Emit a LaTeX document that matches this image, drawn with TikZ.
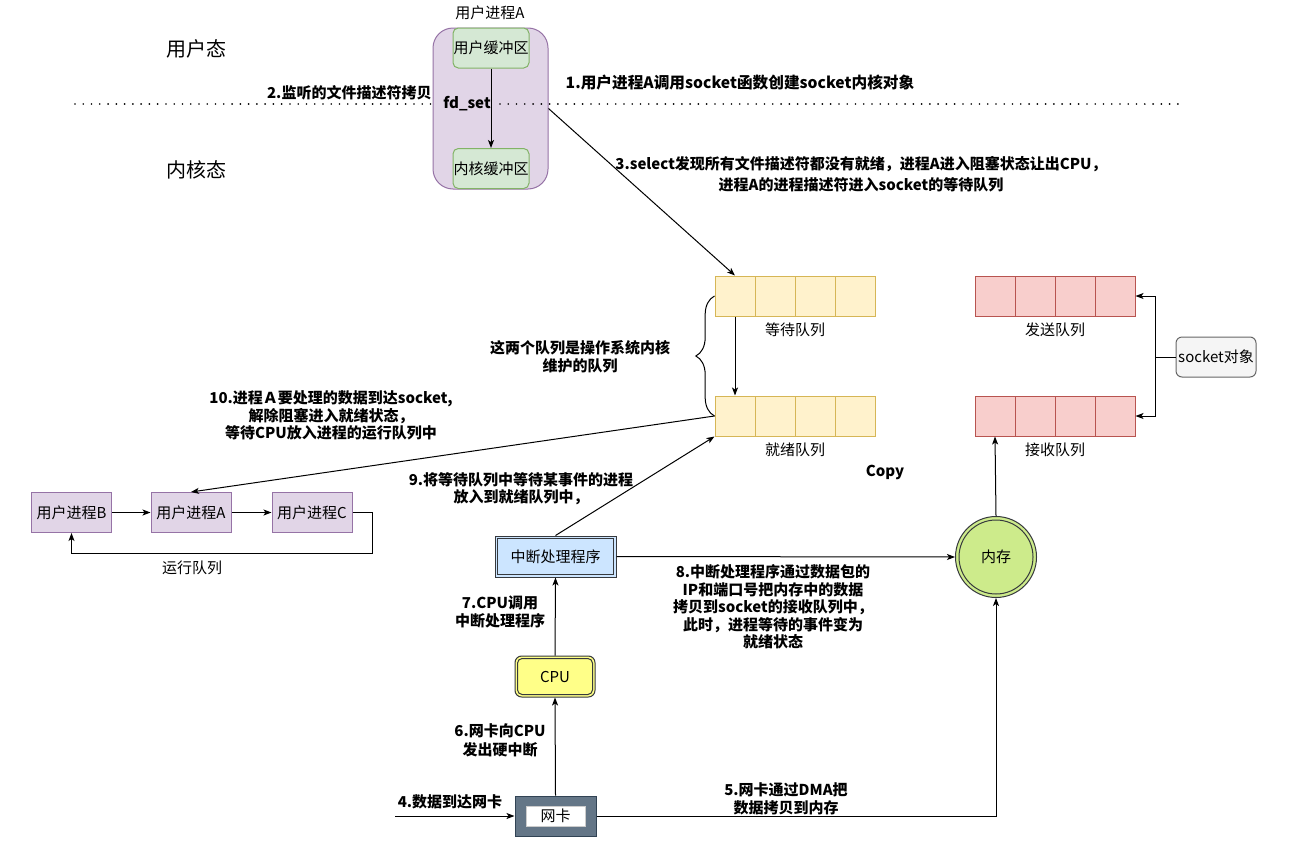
\documentclass[tikz,border=0pt]{standalone}
\usepackage{fontspec}
\setmainfont{Noto Sans CJK SC}
\usetikzlibrary{arrows.meta,decorations.pathreplacing,calc}
\definecolor{purF}{HTML}{E1D5E7}\definecolor{purD}{HTML}{9673A6}
\definecolor{grnF}{HTML}{D5E8D4}\definecolor{grnD}{HTML}{82B366}
\definecolor{ylwF}{HTML}{FFF2CC}\definecolor{ylwD}{HTML}{D6B656}
\definecolor{redF}{HTML}{F8CECC}\definecolor{redD}{HTML}{B85450}
\definecolor{gryF}{HTML}{F5F5F5}\definecolor{gryD}{HTML}{666666}
\definecolor{intF}{HTML}{CCE5FF}\definecolor{darkD}{HTML}{36393D}
\definecolor{cpuF}{HTML}{FFFF88}\definecolor{memF}{HTML}{CDEB8B}
\definecolor{nicF}{HTML}{647687}\definecolor{nicD}{HTML}{314354}
\begin{document}
\begin{tikzpicture}[x=0.75pt,y=-0.75pt,line width=0.75pt,
  >={Stealth[length=6pt,width=4.5pt,inset=1.5pt]},
  txt/.style={font=\fontsize{11.25}{13.5}\selectfont,inner sep=0pt,align=center},
  lbl/.style={font=\fontsize{11.25}{13.5}\selectfont\bfseries,inner sep=0pt,align=center},
  big/.style={font=\fontsize{15}{18}\selectfont,inner sep=0pt},
  pbox/.style={draw=purD,fill=purF,minimum width=60pt,minimum height=30pt,inner sep=0pt,font=\fontsize{11.25}{13.5}\selectfont},
  gbox/.style={draw=grnD,fill=grnF,rounded corners=4pt,minimum width=57pt,minimum height=30pt,inner sep=0pt,font=\fontsize{11.25}{13.5}\selectfont},
  ycell/.style={draw=ylwD,fill=ylwF,minimum size=30pt,inner sep=0pt},
  rcell/.style={draw=redD,fill=redF,minimum size=30pt,inner sep=0pt},
  dotline/.style={line width=1.4pt,line cap=round,dash pattern=on 0pt off 6.2pt}
]
\useasboundingbox (0,0) rectangle (1295,846);
\fill[white] (0,0) rectangle (1295,846);

% user/kernel separation
\draw[dotline] (75,104) -- (432,104);
\node[big] (ustate) at (196,49) {用户态};
\node[big] (kstate) at (196,170) {内核态};

% process A
\node[draw=purD,fill=purF,rounded corners=15pt,minimum width=86.25pt,minimum height=120.75pt,inner sep=0pt] (procA) at (490.5,108.5) {};
\draw[dotline] (500,104) -- (1180,104);
\node[txt] (procAlbl) at (490,13) {用户进程A};
\node[gbox] (ubuf) at (491,48) {用户缓冲区};
\node[gbox] (kbuf) at (491,168.5) {内核缓冲区};
\draw[->] (ubuf.south) -- (kbuf.north);
\node[lbl] (fdset) at (467,104) {fd\_set};
\node[lbl,anchor=east] (l2) at (432,93) {2.监听的文件描述符拷贝};
\node[lbl,font=\fontsize{11.75}{14}\selectfont\bfseries] (l1) at (740,83) {1.用户进程A调用socket函数创建socket内核对象};

% queues
\foreach \i/\xx in {1/735,2/775,3/815,4/855}{
  \node[ycell] (w\i) at (\xx,296) {};
  \node[ycell] (r\i) at (\xx,416) {};
}
\foreach \i/\xx in {1/995,2/1035,3/1075,4/1115}{
  \node[rcell] (s\i) at (\xx,296) {};
  \node[rcell] (v\i) at (\xx,416) {};
}
\node[txt] (wl) at (795,330) {等待队列};
\node[txt] (rl) at (795,450) {就绪队列};
\node[txt] (sl) at (1055,330) {发送队列};
\node[txt] (vl) at (1055,450) {接收队列};
\draw[->] (w1.south) -- (r1.north);
\draw[decorate,decoration={brace,amplitude=14pt}] (r1.west) -- (w1.west);
\node[lbl,font=\fontsize{11.25}{13.5}\selectfont\bfseries] (lbrace) at (580,357) {这两个队列是操作系统内核\\维护的队列};

% socket object
\node[draw=gryD,fill=gryF,rounded corners=4.5pt,minimum width=60pt,minimum height=30pt,inner sep=0pt,font=\fontsize{11.25}{13.5}\selectfont] (sock) at (1216,357) {socket对象};
\draw[->] (sock.west) -- ++(-20,0) |- (s4.east);
\draw[->] (sock.west) -- ++(-20,0) |- (v4.east);

% step 3
\draw[->] (procA.east) -- (w1.north);
\node[lbl,font=\fontsize{11.25}{15.75}\selectfont\bfseries] (l3) at (861,174.5) {3.select发现所有文件描述符都没有就绪，进程A进入阻塞状态让出CPU，\\进程A的进程描述符进入socket的等待队列};

\node[lbl] (copy) at (885,472) {Copy};

% run queue
\node[pbox] (pB) at (71.5,512.5) {用户进程B};
\node[pbox] (pA) at (191,512.5) {用户进程A};
\node[pbox] (pC) at (312,512.5) {用户进程C};
\draw[->] (pB.east) -- (pA.west);
\draw[->] (pA.east) -- (pC.west);
\draw[->] (pC.east) -- ++(20,0) |- ($(pB.south)+(0,20)$) -- (pB.south);
\node[txt] (runl) at (192,568) {运行队列};

% step 10
\draw[->] (r1.west) -- (pA.north);
\node[lbl,font=\fontsize{11.25}{13.1}\selectfont\bfseries] (l10) at (331,415.5) {10.进程Ａ要处理的数据到达socket,\\解除阻塞进入就绪状态，\\等待CPU放入进程的运行队列中};

% interrupt handler
\node[draw=darkD,fill=intF,minimum width=90.75pt,minimum height=30.75pt,inner sep=0pt,font=\fontsize{11.25}{13.5}\selectfont] (int) at (555.5,556.5) {中断处理程序};
\draw[darkD] ($(int.south west)+(3,-3)$) rectangle ($(int.north east)+(-3,3)$);
\draw[->] (int.north) -- (r1.south west);
\node[lbl,font=\fontsize{11.25}{12.75}\selectfont\bfseries] (l9) at (521,488.5) {9.将等待队列中等待某事件的进程\\放入到就绪队列中，};

% memory
\node[circle,draw=darkD,fill=memF,minimum size=60.75pt,inner sep=0pt,font=\fontsize{11.25}{13.5}\selectfont] (mem) at (996,557) {内存};
\draw[darkD] (mem.center) circle[radius=27.75pt];
\draw[->] (int.east) -- (mem.west);
\draw[->] (mem.north) -- (v1.south);
\node[lbl,font=\fontsize{11.25}{13.1}\selectfont\bfseries] (l8) at (773,607) {8.中断处理程序通过数据包的\\IP和端口号把内存中的数据\\拷贝到socket的接收队列中，\\此时，进程等待的事件变为\\就绪状态};

% CPU
\node[draw=darkD,fill=cpuF,rounded corners=5pt,minimum width=60pt,minimum height=30.75pt,inner sep=0pt,font=\fontsize{11.25}{13.5}\selectfont] (cpu) at (555,676.5) {CPU};
\draw[darkD,rounded corners=3.5pt] ($(cpu.south west)+(3,-3)$) rectangle ($(cpu.north east)+(-3,3)$);
\draw[->] (cpu.north) -- (int.south);
\node[lbl] (l7) at (500,612) {7.CPU调用\\中断处理程序};

% NIC
\node[draw=nicD,fill=nicF,minimum width=60.75pt,minimum height=30pt,inner sep=0pt] (nic) at (555.5,816) {};
\node[draw=gray!40,fill=white,minimum width=44.25pt,minimum height=15pt,inner sep=0pt,font=\fontsize{11.25}{13.5}\selectfont] (nicin) at (555.5,816) {网卡};
\draw[->] (nic.north) -- (cpu.south);
\node[lbl,font=\fontsize{11.25}{14.25}\selectfont\bfseries] (l6) at (500,740.5) {6.网卡向CPU\\发出硬中断};
\coordinate (in4) at (395,816);
\draw[->] (in4) -- (nic.west);
\node[lbl] (l4) at (450,802) {4.数据到达网卡};
\draw[->] (nic.east) -| (mem.south);
\node[lbl] (l5) at (786,799) {5.网卡通过DMA把\\数据拷贝到内存};
\end{tikzpicture}
\end{document}
